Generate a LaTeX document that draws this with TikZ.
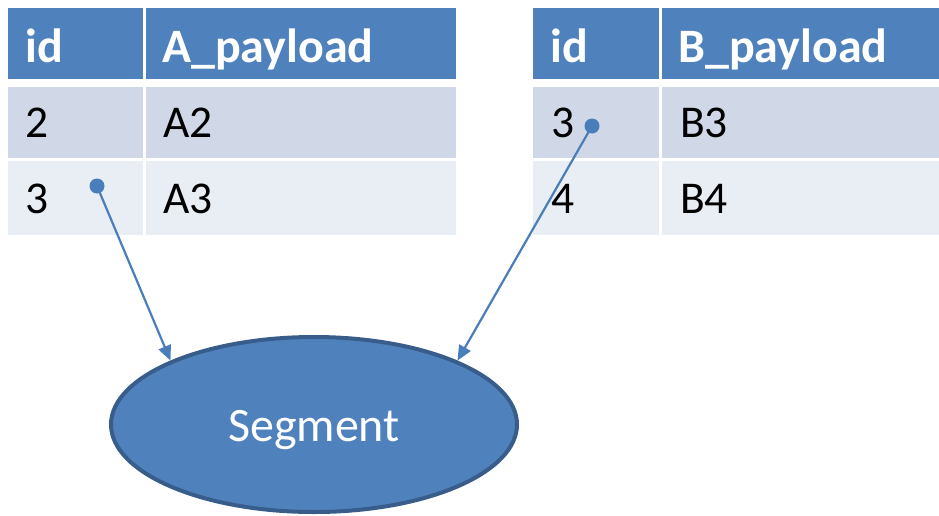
\documentclass[tikz,border=0pt]{standalone}
\usepackage{fontspec}
\setmainfont{Carlito}
\usetikzlibrary{shapes.geometric,arrows.meta}

\definecolor{hdrblue}{HTML}{4F81BD}
\definecolor{rowdark}{HTML}{D0D8E8}
\definecolor{rowlight}{HTML}{E9EDF4}
\definecolor{rimblue}{HTML}{385D8A}
\definecolor{linkblue}{HTML}{4A7EBB}

\tikzset{
  cellbox/.style={draw=none, inner sep=0pt, outer sep=0pt, anchor=north west},
  hdrtext/.style={anchor=base west, inner sep=0pt, text=white,
    font=\fontsize{48}{56}\selectfont\bfseries},
  bodytext/.style={anchor=base west, inner sep=0pt, text=black,
    font=\fontsize{45.5}{54}\selectfont},
  keydot/.style={circle, fill=linkblue, inner sep=0pt, minimum size=15pt},
  link/.style={draw=linkblue, line width=2.2pt,
    -{Triangle[length=15pt,width=13pt]}},
  segshape/.style={ellipse, fill=hdrblue, draw=rimblue, line width=4pt,
    minimum width=406pt, minimum height=175pt, inner sep=0pt},
}

% one table cell: name, left, top, right, bottom, colour
\newcommand{\tabcell}[6]{%
  \node[cellbox, fill=#6, minimum width={(#4-#2)*1pt},
        minimum height={(#5-#3)*1pt}] (#1) at (#2,#3) {};}

\begin{document}
\begin{tikzpicture}[x=1pt, y=-1pt]
  \useasboundingbox (0,0) rectangle (939,515);

  % table A
  \tabcell{ah1}{8}{8}{143}{79}{hdrblue}
  \tabcell{ah2}{146}{8}{456}{79}{hdrblue}
  \tabcell{ar1a}{8}{87}{143}{158}{rowdark}
  \tabcell{ar1b}{146}{87}{456}{158}{rowdark}
  \tabcell{ar2a}{8}{161}{143}{235}{rowlight}
  \tabcell{ar2b}{146}{161}{456}{235}{rowlight}
  \node[hdrtext] (ah1t) at (25,62) {id};
  \node[hdrtext] (ah2t) at (162,62) {A\_payload};
  \node[bodytext] (ar1at) at (25,137) {2};
  \node[bodytext] (ar1bt) at (163,137) {A2};
  \node[bodytext] (ar2at) at (25,213) {3};
  \node[bodytext] (ar2bt) at (163,213) {A3};

  % table B
  \tabcell{bh1}{533}{8}{659}{79}{hdrblue}
  \tabcell{bh2}{662}{8}{939}{79}{hdrblue}
  \tabcell{br1a}{533}{87}{659}{158}{rowdark}
  \tabcell{br1b}{662}{87}{939}{158}{rowdark}
  \tabcell{br2a}{533}{161}{659}{235}{rowlight}
  \tabcell{br2b}{662}{161}{939}{235}{rowlight}
  \node[hdrtext] (bh1t) at (550,62) {id};
  \node[hdrtext] (bh2t) at (678,62) {B\_payload};
  \node[bodytext] (br1at) at (551,137) {3};
  \node[bodytext] (br1bt) at (680,137) {B3};
  \node[bodytext] (br2at) at (551,213) {4};
  \node[bodytext] (br2bt) at (680,213) {B4};

  % segment
  \node[segshape] (seg) at (314,424.5) {};
  \node[anchor=base, inner sep=0pt, text=white,
        font=\fontsize{48}{56}\selectfont] (segt) at (314,441) {Segment};

  % key links
  \node[keydot] (adot) at (97,186) {};
  \node[keydot] (bdot) at (592,126) {};
  \draw[link] (adot.center) -- (seg.156);
  \draw[link] (bdot.center) -- (seg.24);
\end{tikzpicture}
\end{document}
